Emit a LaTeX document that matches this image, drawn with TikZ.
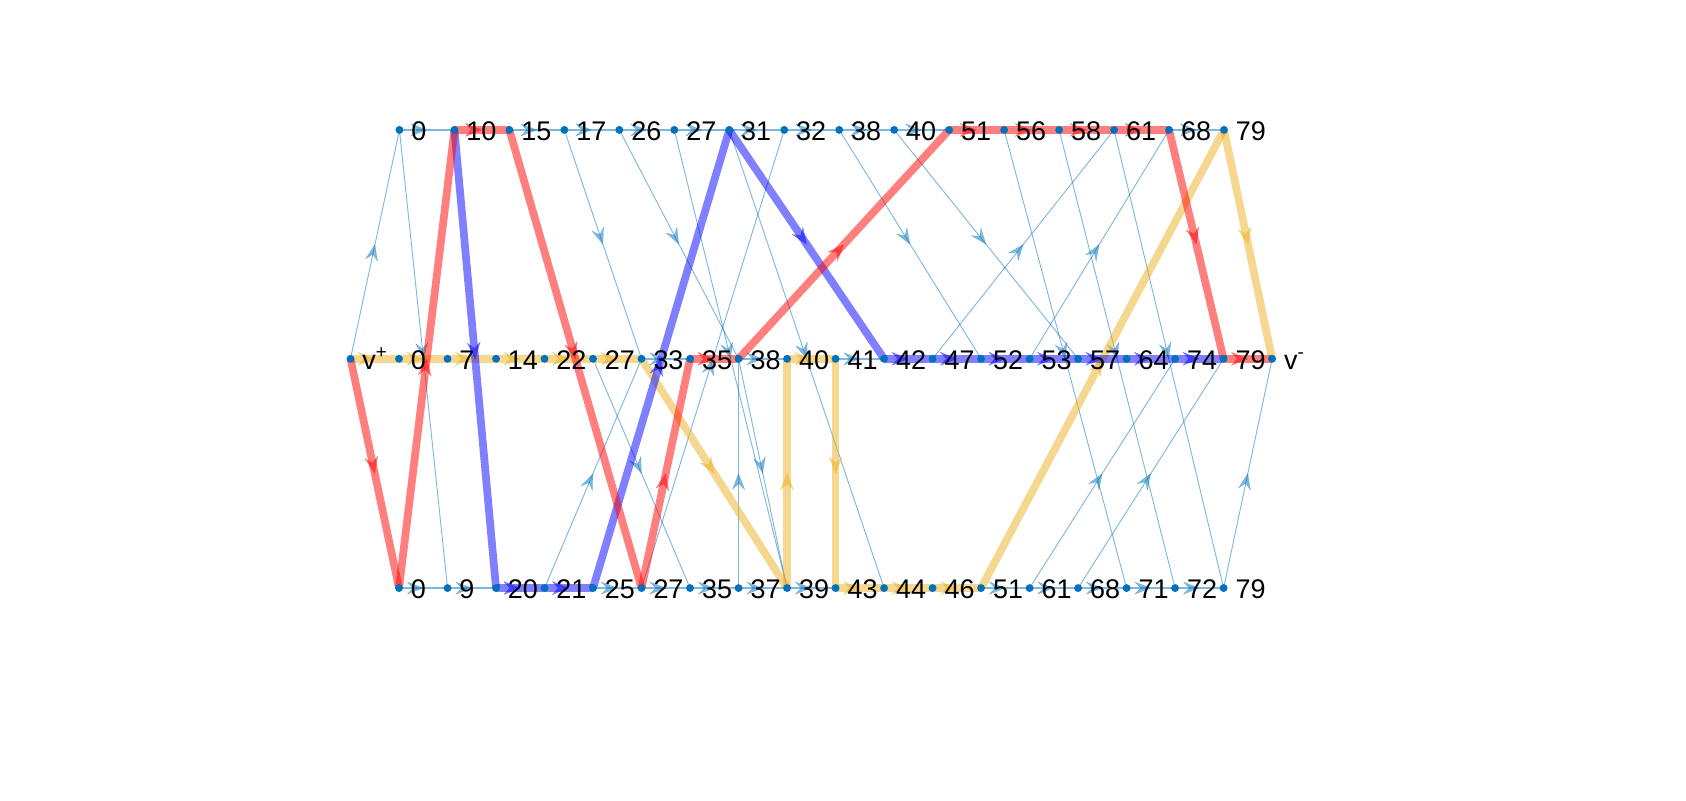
\documentclass[tikz,border=0pt]{standalone}
\usepackage{fontspec}
\setmainfont{Liberation Sans}
\usetikzlibrary{arrows.meta,decorations.markings}
\definecolor{mblue}{RGB}{0,114,189}
\definecolor{pred}{RGB}{255,0,0}
\definecolor{pblue}{RGB}{0,0,255}
\definecolor{pyel}{RGB}{237,177,32}
\tikzset{
  midarrow/.style={postaction={decorate,decoration={markings,mark=at position 0.5 with {\pgfsetfillopacity{0.5}\pgfsetstrokeopacity{0.5}\arrow{Stealth[length=0.35cm,width=0.27cm,inset=0.13cm,line width=0.1pt,color=#1]}}}}},
  bigarrow/.style={postaction={decorate,decoration={markings,mark=at position 0.5 with {\pgfsetfillopacity{0.5}\pgfsetstrokeopacity{0.5}\arrow{Stealth[length=0.36cm,width=0.29cm,inset=0.13cm,line width=0.1pt,color=#1]}}}}},
  thinedge/.style={draw=mblue,draw opacity=0.5,line width=0.02cm,midarrow=mblue},
  waitedge/.style={draw=mblue,draw opacity=0.5,line width=0.045cm,midarrow=mblue},
  redpath/.style={draw=pred,draw opacity=0.5,line width=0.166cm,bigarrow=pred},
  bluepath/.style={draw=pblue,draw opacity=0.5,line width=0.166cm,bigarrow=pblue},
  yelpath/.style={draw=pyel,draw opacity=0.5,line width=0.166cm,bigarrow=pyel},
  dot/.style={circle,fill=mblue,inner sep=0pt,minimum size=0.17cm},
  lab/.style={anchor=base west,inner sep=0pt,font=\fontsize{16.5}{19}\selectfont},
}
\newcommand{\supmark}[1]{\raisebox{6.5pt}{\fontsize{11.5}{13}\selectfont #1}}
\begin{document}
\begin{tikzpicture}[x=0.02cm,y=-0.02cm]
\useasboundingbox[fill=white] (0,0) rectangle (1812,860);
% positions
\foreach \t [count=\i from 0] in {0,10,15,17,26,27,31,32,38,40,51,56,58,61,68,79}
  \coordinate (t\t) at ({429.3+59.08*\i},139.6);
\coordinate (vp) at (376.7,385.6);
\foreach \t [count=\i from 1] in {0,7,14,22,27,33,35,38,40,41,42,47,52,53,57,64,74,79}
  \coordinate (m\t) at ({376.7+52.13*\i},385.6);
\coordinate (vm) at ({376.7+52.13*19},385.6);
\foreach \t [count=\i from 1] in {0,9,20,21,25,27,35,37,39,43,44,46,51,61,68,71,72,79}
  \coordinate (b\t) at ({376.7+52.13*\i},632);
% waiting edges
\foreach \a/\b in {t0/t10,t15/t17,t17/t26,t26/t27,t27/t31,t31/t32,t32/t38,t38/t40,t40/t51,t68/t79,
  m33/m35,m38/m40,m41/m42,
  b0/b9,b9/b20,b25/b27,b27/b35,b35/b37,b37/b39,b39/b43,b51/b61,b61/b68,b68/b71,b71/b72,b72/b79}
  \draw[waitedge] (\a) -- (\b);
% cross edges
\foreach \a/\b in {vp/t0,t0/b9,t17/m33,t26/m38,t27/b39,t31/b44,b27/t32,t38/m52,t40/m57,m47/t61,m53/t68,
  t56/b71,t58/b72,t61/b79,b21/m33,m27/b35,b37/m38,m38/b39,b61/m74,b68/m79,b79/vm}
  \draw[thinedge] (\a) -- (\b);
% yellow path
\foreach \a/\b in {vp/m0,m0/m7,m7/m14,m14/m22,m22/m27,m27/m33,m33/b39,b39/m40,m40/m41,m41/b43,
  b43/b44,b44/b46,b46/b51,b51/t79,t79/vm}
  \draw[yelpath] (\a) -- (\b);
% blue path
\foreach \a/\b in {t10/b20,b20/b21,b21/b25,b25/t31,t31/m42,m42/m47,m47/m52,m52/m53,m53/m57,m57/m64,m64/m74,m74/m79}
  \draw[bluepath] (\a) -- (\b);
% red path
\foreach \a/\b in {vp/b0,b0/t10,t10/t15,t15/b27,b27/m35,m35/m38,m38/t51,t51/t56,t56/t58,t58/t61,t61/t68,t68/m79,m79/vm}
  \draw[redpath] (\a) -- (\b);
% dots and labels
\foreach \t in {0,10,15,17,26,27,31,32,38,40,51,56,58,61,68,79}{
  \node[dot] (dt\t) at (t\t) {};
  \path (t\t) ++(12.5,11.3) node[lab] (lt\t) {\t};
}
\foreach \t in {0,7,14,22,27,33,35,38,40,41,42,47,52,53,57,64,74,79}{
  \node[dot] (dm\t) at (m\t) {};
  \path (m\t) ++(12.5,11.3) node[lab] (lm\t) {\t};
}
\foreach \t in {0,9,20,21,25,27,35,37,39,43,44,46,51,61,68,71,72,79}{
  \node[dot] (db\t) at (b\t) {};
  \path (b\t) ++(12.5,11.3) node[lab] (lb\t) {\t};
}
\node[dot] (dvp) at (vp) {};
\path (vp) ++(12.5,11.3) node[lab] (lvp) {v\supmark{+}};
\node[dot] (dvm) at (vm) {};
\path (vm) ++(12.5,11.3) node[lab] (lvm) {v\supmark{-}};
\end{tikzpicture}
\end{document}
